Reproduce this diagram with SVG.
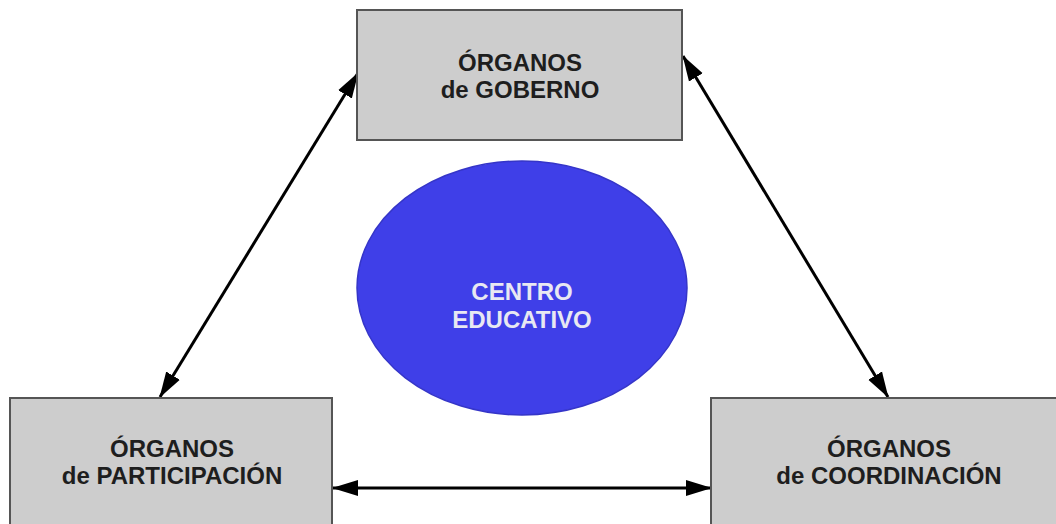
<svg xmlns="http://www.w3.org/2000/svg" width="1056" height="524" viewBox="0 0 1056 524">
<defs>
<marker id="ah" markerUnits="userSpaceOnUse" markerWidth="26" markerHeight="18" viewBox="0 0 26 18" refX="25" refY="9" orient="auto-start-reverse">
<path d="M0,1 L26,9 L0,17 z" fill="#000"/>
</marker>
</defs>
<style>
.box{fill:#cdcdcd;stroke:#555;stroke-width:2}
.lbl{font-family:"Liberation Sans",Arial,sans-serif;font-weight:bold;font-size:24px;fill:#1e1e1e;text-anchor:middle}
.clbl{font-family:"Liberation Sans",Arial,sans-serif;font-weight:bold;font-size:24px;fill:#e8e8f2;text-anchor:middle}
.conn{stroke:#000;stroke-width:3;fill:none;marker-start:url(#ah);marker-end:url(#ah)}
</style>
<rect width="1056" height="524" fill="#fff"/>
<g id="connectors">
<line class="conn" x1="358" y1="73" x2="160" y2="397"/>
<line class="conn" x1="683" y1="56" x2="888" y2="397"/>
<line class="conn" x1="333" y1="488" x2="711" y2="488"/>
</g>
<g id="gobierno">
<rect class="box" x="357" y="10" width="325" height="130"/>
<text class="lbl" x="520" y="71">ÓRGANOS</text>
<text class="lbl" x="520" y="98">de GOBERNO</text>
</g>
<g id="centro">
<ellipse cx="522" cy="288" rx="165" ry="127" fill="#3f3fe8" stroke="#3535c8" stroke-width="1.5"/>
<text class="clbl" x="522" y="300">CENTRO</text>
<text class="clbl" x="522" y="328">EDUCATIVO</text>
</g>
<g id="participacion">
<rect class="box" x="10" y="398" width="322" height="140"/>
<text class="lbl" x="172" y="457">ÓRGANOS</text>
<text class="lbl" x="172" y="484">de PARTICIPACIÓN</text>
</g>
<g id="coordinacion">
<rect class="box" x="711" y="398" width="360" height="140"/>
<text class="lbl" x="889" y="457">ÓRGANOS</text>
<text class="lbl" x="889" y="484">de COORDINACIÓN</text>
</g>
</svg>
